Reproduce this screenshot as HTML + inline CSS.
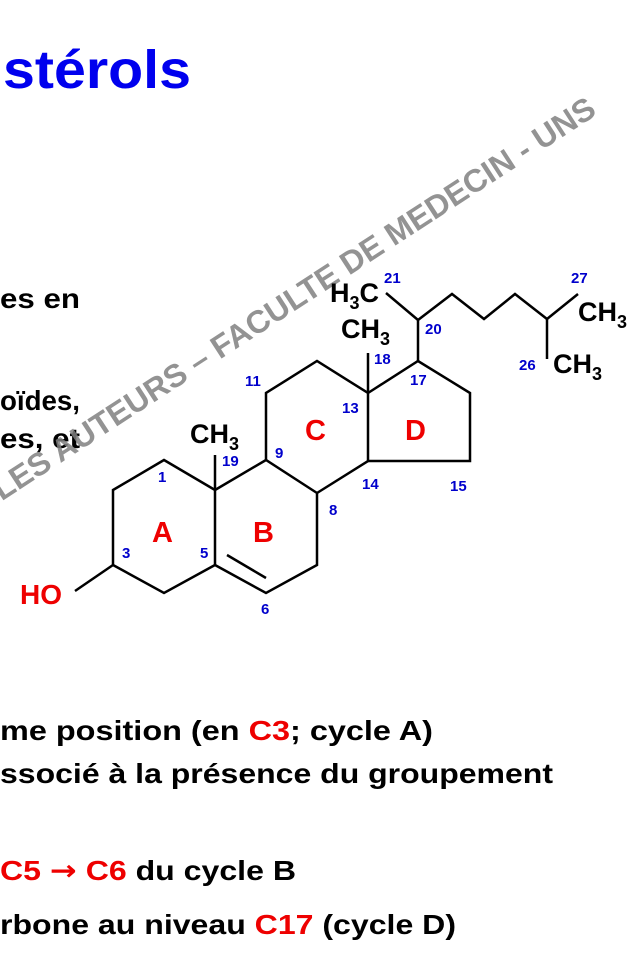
<!DOCTYPE html>
<html><head><meta charset="utf-8"><style>
html,body{margin:0;padding:0;background:#fff;}
svg{display:block;}
</style></head><body>
<svg width="640" height="960" viewBox="0 0 640 960" xmlns="http://www.w3.org/2000/svg" font-family="Liberation Sans, Arial, sans-serif" font-weight="bold">
<text x="3" y="88" font-size="54" fill="#0000ee" textLength="188" lengthAdjust="spacingAndGlyphs">stérols</text>
<text x="0" y="308" font-size="28" fill="#000" textLength="80" lengthAdjust="spacingAndGlyphs">es  en</text>
<text x="0" y="410" font-size="28" fill="#000" textLength="80" lengthAdjust="spacingAndGlyphs">oïdes,</text>
<text x="0" y="448" font-size="28" fill="#000" textLength="80" lengthAdjust="spacingAndGlyphs">es, et</text>

<text x="598" y="114" font-size="32" fill="#808080" fill-opacity="0.85" text-anchor="end" transform="rotate(-33 598 114)">LES AUTEURS – FACULTE DE MEDECIN - UNS</text>

<g stroke="#000" stroke-width="2.5" fill="none" stroke-linejoin="miter">
<polygon points="164,460 215,490 215,565 164,593 113,565 113,490"/>
<polyline points="215,490 266,460 317,493 317,565 266,593 215,565"/>
<line x1="227" y1="555" x2="266" y2="578"/>
<polyline points="266,460 266,393 317,361 368,393 368,461 317,493"/>
<polyline points="368,393 418,361 470,393 470,461 368,461"/>
<line x1="215" y1="490" x2="215" y2="455"/>
<line x1="368" y1="393" x2="368" y2="353"/>
<line x1="113" y1="565" x2="75" y2="591"/>
<line x1="418" y1="361" x2="418" y2="320"/>
<polyline points="386,293 418,320 452,294 484,319 515,294 547,319 578,294"/>
<line x1="547" y1="319" x2="547" y2="359"/>
</g>

<g font-size="27" fill="#000">
<text x="190" y="443">CH<tspan font-size="18" dy="7">3</tspan></text>
<text x="341" y="338">CH<tspan font-size="18" dy="7">3</tspan></text>
<text x="330" y="302">H<tspan font-size="18" dy="7">3</tspan><tspan dy="-7">C</tspan></text>
<text x="578" y="321">CH<tspan font-size="18" dy="7">3</tspan></text>
<text x="553" y="373">CH<tspan font-size="18" dy="7">3</tspan></text>
</g>
<text x="20" y="604" font-size="28" fill="#ee0000">HO</text>
<g font-size="29" fill="#ee0000">
<text x="152" y="542">A</text>
<text x="253" y="542">B</text>
<text x="305" y="440">C</text>
<text x="405" y="440">D</text>
</g>
<g font-size="15" fill="#0000cc">
<text x="158" y="482">1</text>
<text x="122" y="558">3</text>
<text x="200" y="558">5</text>
<text x="261" y="614">6</text>
<text x="329" y="515">8</text>
<text x="275" y="458">9</text>
<text x="245" y="386">11</text>
<text x="342" y="413">13</text>
<text x="362" y="489">14</text>
<text x="450" y="491">15</text>
<text x="410" y="385">17</text>
<text x="374" y="364">18</text>
<text x="222" y="466">19</text>
<text x="425" y="334">20</text>
<text x="384" y="283">21</text>
<text x="519" y="370">26</text>
<text x="571" y="283">27</text>
</g>

<g font-size="28" fill="#000">
<text x="0" y="740" textLength="433" lengthAdjust="spacingAndGlyphs">me position (en <tspan fill="#ee0000">C3</tspan>; cycle A)</text>
<text x="0" y="783" textLength="553" lengthAdjust="spacingAndGlyphs">ssocié à la présence du groupement</text>
<text x="0" y="880" textLength="296" lengthAdjust="spacingAndGlyphs"><tspan fill="#ee0000">C5 <tspan font-family="DejaVu Sans, sans-serif">→</tspan> C6</tspan> du cycle B</text>
<text x="0" y="934" textLength="456" lengthAdjust="spacingAndGlyphs">rbone au niveau <tspan fill="#ee0000">C17</tspan> (cycle D)</text>
</g>
</svg>
</body></html>
